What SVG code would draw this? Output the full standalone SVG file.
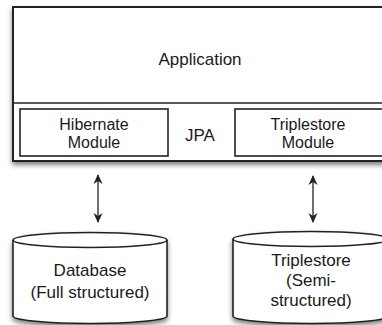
<svg xmlns="http://www.w3.org/2000/svg" width="382" height="325" viewBox="0 0 382 325">
<defs>
<filter id="sh" x="-10%" y="-10%" width="120%" height="130%">
<feDropShadow dx="0" dy="3" stdDeviation="2.5" flood-color="#000" flood-opacity="0.5"/>
</filter>
<marker id="ah" viewBox="0 0 10 10" refX="9" refY="5" markerWidth="10" markerHeight="10" orient="auto-start-reverse" markerUnits="userSpaceOnUse">
<path d="M0,0.5 L10,5 L0,9.5 L3,5 Z" fill="#222"/>
</marker>
</defs>
<style>
text{font-family:"Liberation Sans",Arial,sans-serif;fill:#1a1a1a;text-anchor:middle}
.big{font-size:17px}
.mod{font-size:16px}
.box{fill:#fff;stroke:#222;stroke-width:2}
.inner{fill:#fff;stroke:#222;stroke-width:1.6}
.cyl{fill:#fff;stroke:#222;stroke-width:1.6}
.conn{stroke:#222;stroke-width:1.3;fill:none}
</style>
<rect width="382" height="325" fill="#fff"/>
<g id="application">
<rect class="box" x="13" y="7" width="380" height="154" filter="url(#sh)"/>
<line x1="13" y1="103" x2="393" y2="103" stroke="#222" stroke-width="1.6"/>
<text class="big" x="200" y="65">Application</text>
<text class="big" x="200" y="141">JPA</text>
</g>
<g id="hibernate-module">
<rect class="inner" x="20" y="109" width="148" height="47"/>
<text class="mod" x="94" y="130">Hibernate</text>
<text class="mod" x="94" y="148">Module</text>
</g>
<g id="triplestore-module">
<rect class="inner" x="235" y="109" width="160" height="47"/>
<text class="mod" x="308" y="130">Triplestore</text>
<text class="mod" x="308" y="148">Module</text>
</g>
<g id="connectors">
<line class="conn" x1="98" y1="175" x2="98" y2="222" marker-start="url(#ah)" marker-end="url(#ah)"/>
<line class="conn" x1="313" y1="176" x2="313" y2="222" marker-start="url(#ah)" marker-end="url(#ah)"/>
</g>
<g id="database">
<path class="cyl" filter="url(#sh)" d="M13,240 A77,7.5 0 0 1 167,240 L167,316 A77,7.5 0 0 1 13,316 Z"/>
<path class="cyl" d="M13,240 A77,7.5 0 0 0 167,240"/>
<text class="big" x="90" y="276">Database</text>
<text class="big" x="90" y="298">(Full structured)</text>
</g>
<g id="triplestore">
<path class="cyl" filter="url(#sh)" d="M233,239 A78,7.5 0 0 1 389,239 L389,316 A78,7.5 0 0 1 233,316 Z"/>
<path class="cyl" d="M233,239 A78,7.5 0 0 0 389,239"/>
<text class="big" x="311" y="266">Triplestore</text>
<text class="big" x="311" y="286">(Semi-</text>
<text class="big" x="311" y="306">structured)</text>
</g>
</svg>
